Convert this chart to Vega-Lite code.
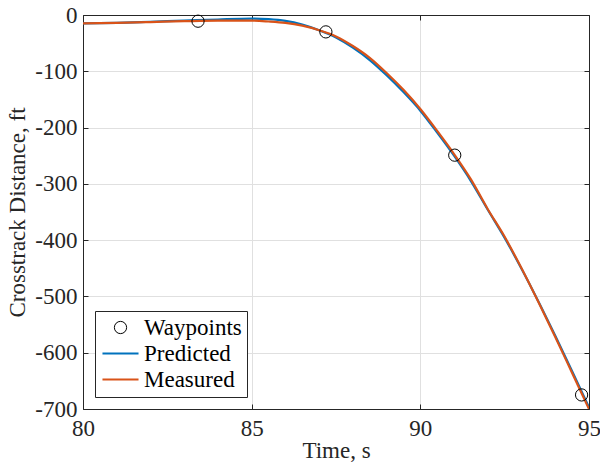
{
  "$schema": "https://vega.github.io/schema/vega-lite/v6.json",
  "width": 506,
  "height": 394,
  "autosize": "none",
  "padding": {"left": 83, "top": 15, "right": 11, "bottom": 55},
  "background": "white",
  "config": {
    "view": {"stroke": null},
    "font": "Liberation Serif",
    "axis": {
      "domainColor": "#262626",
      "tickColor": "#262626",
      "labelColor": "#262626",
      "titleColor": "#262626",
      "labelFont": "Liberation Serif",
      "titleFont": "Liberation Serif",
      "labelFontSize": 23,
      "titleFontSize": 23,
      "titleFontWeight": "normal",
      "gridColor": "#e0e0e0",
      "tickSize": -5,
      "tickWidth": 1,
      "domainWidth": 1
    }
  },
  "datasets": {
    "lines": [
      {"t": 80, "d": -15, "series": "Predicted"},
      {"t": 81, "d": -14, "series": "Predicted"},
      {"t": 82, "d": -12, "series": "Predicted"},
      {"t": 83, "d": -10, "series": "Predicted"},
      {"t": 84, "d": -8, "series": "Predicted"},
      {"t": 85, "d": -6.5, "series": "Predicted"},
      {"t": 85.5, "d": -7.5, "series": "Predicted"},
      {"t": 86, "d": -10.5, "series": "Predicted"},
      {"t": 86.5, "d": -17, "series": "Predicted"},
      {"t": 87, "d": -27, "series": "Predicted"},
      {"t": 87.5, "d": -40, "series": "Predicted"},
      {"t": 88, "d": -58, "series": "Predicted"},
      {"t": 88.5, "d": -80, "series": "Predicted"},
      {"t": 89, "d": -107, "series": "Predicted"},
      {"t": 89.5, "d": -137, "series": "Predicted"},
      {"t": 90, "d": -170, "series": "Predicted"},
      {"t": 90.5, "d": -209, "series": "Predicted"},
      {"t": 91, "d": -250, "series": "Predicted"},
      {"t": 91.5, "d": -295, "series": "Predicted"},
      {"t": 92, "d": -346, "series": "Predicted"},
      {"t": 92.5, "d": -396, "series": "Predicted"},
      {"t": 93, "d": -451, "series": "Predicted"},
      {"t": 93.5, "d": -509, "series": "Predicted"},
      {"t": 94, "d": -570, "series": "Predicted"},
      {"t": 94.5, "d": -633, "series": "Predicted"},
      {"t": 95, "d": -697, "series": "Predicted"},
      {"t": 80, "d": -15, "series": "Measured"},
      {"t": 81, "d": -14, "series": "Measured"},
      {"t": 82, "d": -12.5, "series": "Measured"},
      {"t": 83, "d": -11, "series": "Measured"},
      {"t": 84, "d": -10, "series": "Measured"},
      {"t": 85, "d": -10, "series": "Measured"},
      {"t": 85.5, "d": -11.5, "series": "Measured"},
      {"t": 86, "d": -14, "series": "Measured"},
      {"t": 86.5, "d": -19, "series": "Measured"},
      {"t": 87, "d": -27, "series": "Measured"},
      {"t": 87.5, "d": -38, "series": "Measured"},
      {"t": 88, "d": -55, "series": "Measured"},
      {"t": 88.5, "d": -76, "series": "Measured"},
      {"t": 89, "d": -103, "series": "Measured"},
      {"t": 89.5, "d": -133, "series": "Measured"},
      {"t": 90, "d": -167, "series": "Measured"},
      {"t": 90.5, "d": -206, "series": "Measured"},
      {"t": 91, "d": -247, "series": "Measured"},
      {"t": 91.5, "d": -292, "series": "Measured"},
      {"t": 92, "d": -345, "series": "Measured"},
      {"t": 92.5, "d": -394, "series": "Measured"},
      {"t": 93, "d": -450, "series": "Measured"},
      {"t": 93.5, "d": -510, "series": "Measured"},
      {"t": 94, "d": -572, "series": "Measured"},
      {"t": 94.5, "d": -636, "series": "Measured"},
      {"t": 95, "d": -700, "series": "Measured"}
    ],
    "waypoints": [
      {"t": 83.41, "d": -11, "series": "Waypoints"},
      {"t": 87.2, "d": -30, "series": "Waypoints"},
      {"t": 91.02, "d": -249, "series": "Waypoints"},
      {"t": 94.78, "d": -675, "series": "Waypoints"}
    ]
  },
  "layer": [
    {
      "data": {"name": "lines"},
      "mark": {"type": "line", "strokeWidth": 2.2, "interpolate": "monotone", "clip": true},
      "encoding": {
        "x": {
          "field": "t", "type": "quantitative",
          "scale": {"domain": [80, 95], "nice": false, "zero": false},
          "axis": {"orient": "bottom", "values": [80, 85, 90, 95], "title": "Time, s", "labelPadding": 13, "titlePadding": -1, "labelFlush": false}
        },
        "y": {
          "field": "d", "type": "quantitative",
          "scale": {"domain": [-700, 0], "nice": false, "zero": false},
          "axis": {"orient": "left", "values": [-700, -600, -500, -400, -300, -200, -100, 0], "title": "Crosstrack Distance, ft", "labelPadding": 11, "titlePadding": 5, "labelFlush": false, "labelExpr": "'' + datum.value"}
        },
        "color": {
          "field": "series", "type": "nominal",
          "scale": {"domain": ["Waypoints", "Predicted", "Measured"], "range": ["#000000", "#0072BD", "#D95319"]},
          "legend": {
            "title": null,
            "orient": "bottom-left",
            "offset": 12,
            "padding": 5,
            "rowPadding": 2,
            "labelFont": "Liberation Serif",
            "labelFontSize": 23,
            "labelColor": "#000000",
            "labelOffset": 12,
            "symbolOffset": 9,
            "symbolSize": 1300,
            "symbolStrokeWidth": 2,
            "strokeColor": "#262626",
            "fillColor": "white",
            "cornerRadius": 0,
            "encode": {
              "symbols": {
                "update": {
                  "shape": {"signal": "datum.value === 'Waypoints' ? 'circle' : 'stroke'"},
                  "size": {"signal": "datum.value === 'Waypoints' ? 150 : 1300"},
                  "strokeWidth": {"signal": "datum.value === 'Waypoints' ? 1 : 2"},
                  "fill": {"value": "transparent"}
                }
              }
            }
          }
        },
        "order": {"field": "t", "type": "quantitative"}
      }
    },
    {
      "data": {"name": "waypoints"},
      "mark": {"type": "point", "filled": false, "size": 150, "strokeWidth": 1, "opacity": 1},
      "encoding": {
        "x": {
          "field": "t", "type": "quantitative",
          "axis": {"orient": "top", "values": [80, 85, 90, 95], "labels": false, "title": null, "grid": false}
        },
        "y": {
          "field": "d", "type": "quantitative",
          "axis": {"orient": "right", "values": [-700, -600, -500, -400, -300, -200, -100, 0], "labels": false, "title": null, "grid": false}
        },
        "color": {"field": "series", "type": "nominal"}
      }
    }
  ],
  "resolve": {"axis": {"x": "independent", "y": "independent"}}
}
